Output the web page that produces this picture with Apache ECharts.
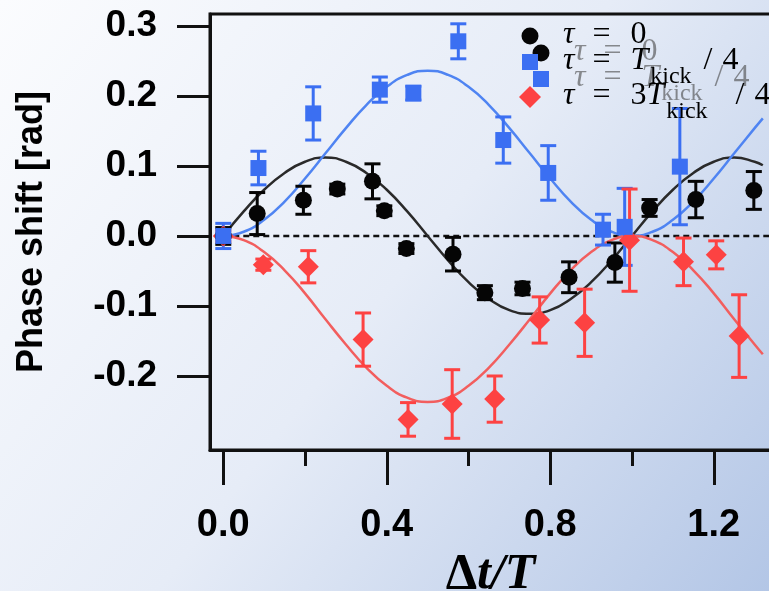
<!DOCTYPE html>
<html>
<head>
<meta charset="utf-8">
<script src="https://cdn.jsdelivr.net/npm/echarts@6/dist/echarts.min.js"></script>
<style>
  html, body { margin: 0; padding: 0; }
  #chart { width: 769px; height: 591px; }
</style>
</head>
<body>
<div id="chart"></div>
<script>
// measured points, tau = 0 (black circles)
const tau0X = [0, 0.083, 0.196, 0.279, 0.365, 0.394, 0.448, 0.562, 0.640, 0.732, 0.846, 0.958, 1.043, 1.156, 1.298];
const tau0Y = [0, 0.032, 0.051, 0.067, 0.078, 0.036, -0.018, -0.026, -0.081, -0.075, -0.059, -0.038, 0.040, 0.052, 0.065];
const tau0Err = [0.012, 0.030, 0.020, 0.007, 0.025, 0.007, 0.007, 0.024, 0.010, 0.009, 0.022, 0.028, 0.012, 0.026, 0.027];

// tau = T_kick/4 (blue squares)
const tau1X = [0, 0.086, 0.220, 0.383, 0.465, 0.575, 0.685, 0.795, 0.929, 0.982, 1.117];
const tau1Y = [0, 0.097, 0.175, 0.209, 0.204, 0.278, 0.137, 0.090, 0.009, 0.013, 0.099];
const tau1Err = [0.018, 0.024, 0.038, 0.018, 0.010, 0.025, 0.033, 0.039, 0.022, 0.055, 0.083];

// tau = 3T_kick/4 (red diamonds)
const tau3X = [0, 0.098, 0.208, 0.342, 0.452, 0.560, 0.664, 0.774, 0.884, 0.994, 1.126, 1.206, 1.262];
const tau3Y = [0, -0.041, -0.044, -0.148, -0.262, -0.240, -0.233, -0.120, -0.124, -0.006, -0.037, -0.027, -0.143];
const tau3Err = [0.008, 0.008, 0.023, 0.038, 0.024, 0.049, 0.033, 0.033, 0.048, 0.073, 0.034, 0.020, 0.059];

// fit curves
const fitX = [0, 0.05, 0.1, 0.15, 0.2, 0.25, 0.3, 0.35, 0.4, 0.45, 0.5, 0.55, 0.6, 0.65, 0.7, 0.75, 0.8, 0.85, 0.9, 0.95, 1.0, 1.05, 1.1, 1.15, 1.2, 1.25, 1.3, 1.32];
const fit0 = [0, 0.035, 0.066, 0.090, 0.106, 0.112, 0.106, 0.090, 0.066, 0.035, 0, -0.035, -0.066, -0.090, -0.106, -0.111, -0.106, -0.090, -0.066, -0.035, 0, 0.035, 0.066, 0.090, 0.106, 0.112, 0.106, 0.101];
const fit1 = [0, 0.006, 0.023, 0.049, 0.082, 0.118, 0.154, 0.187, 0.213, 0.230, 0.236, 0.230, 0.213, 0.187, 0.154, 0.118, 0.082, 0.049, 0.023, 0.006, 0, 0.006, 0.023, 0.049, 0.082, 0.118, 0.154, 0.168];
const fit3 = [0, -0.006, -0.023, -0.049, -0.082, -0.119, -0.155, -0.188, -0.214, -0.231, -0.237, -0.231, -0.214, -0.188, -0.155, -0.119, -0.082, -0.049, -0.023, -0.006, 0, -0.006, -0.023, -0.049, -0.082, -0.119, -0.155, -0.169];

const yTicks = [-0.2, -0.1, 0, 0.1, 0.2, 0.3];
const xTicks = [0, 0.4, 0.8, 1.2];
const xMinorTicks = [0.2, 0.6, 1.0];

const BLACK = '#050505';
const BLUE = '#3b6ff2';
const RED = '#fd4242';

// legend icons padded inside a 22px box (invisible moveTo corners keep the box)
const ICON_CIRCLE = 'path://M0,0M22,22M2.5,11A8.5,8.5,0,1,1,19.5,11A8.5,8.5,0,1,1,2.5,11Z';
const ICON_SQUARE = 'path://M0,0M22,22M3,3L19,3L19,19L3,19Z';

const zip = (xs, ys, es) => xs.map((x, i) => es ? [x, ys[i], es[i]] : [x, ys[i]]);

function errorBars(color) {
  return function (params, api) {
    const x = api.value(0), y = api.value(1), e = api.value(2);
    const top = api.coord([x, y + e]);
    const bot = api.coord([x, y - e]);
    const hw = 8;
    const style = { stroke: color, lineWidth: 3 };
    return {
      type: 'group',
      children: [
        { type: 'line', shape: { x1: top[0], y1: top[1], x2: bot[0], y2: bot[1] }, style: style },
        { type: 'line', shape: { x1: top[0] - hw, y1: top[1], x2: top[0] + hw, y2: top[1] }, style: style },
        { type: 'line', shape: { x1: bot[0] - hw, y1: bot[1], x2: bot[0] + hw, y2: bot[1] }, style: style }
      ]
    };
  };
}

function legendText(name) {
  if (name === 'tau0') return '{t|τ}{e|=}{n|0}';
  if (name === 'tau1') return '{t|τ}{e|=}{m|T}{s|kick}{d|/}{n|4}';
  return '{t|τ}{e|=}{n|3}{m|T}{s|kick}{d3|/}{n|4}';
}

function legendRich(color) {
  const f = 'Liberation Serif';
  return {
    t: { fontFamily: f, fontSize: 32, fontStyle: 'italic', color: color, lineHeight: 34, verticalAlign: 'top', padding: [0, 0, 0, 17] },
    e: { fontFamily: f, fontSize: 32, color: color, lineHeight: 34, verticalAlign: 'top', padding: [0, 20, 0, 18] },
    n: { fontFamily: f, fontSize: 32, color: color, lineHeight: 34, verticalAlign: 'top' },
    m: { fontFamily: f, fontSize: 32, fontStyle: 'italic', color: color, lineHeight: 34, verticalAlign: 'top' },
    s: { fontFamily: f, fontSize: 24, color: color, lineHeight: 24, verticalAlign: 'top', padding: [20, 0, 0, 2] },
    d: { fontFamily: f, fontSize: 32, color: color, lineHeight: 34, verticalAlign: 'top', padding: [0, 10, 0, 12] },
    d3: { fontFamily: f, fontSize: 32, color: color, lineHeight: 34, verticalAlign: 'top', padding: [0, 10, 0, 28] }
  };
}

// one legend row each, so every row sits where it does in the figure
function legendRow(name, icon, left, top, color) {
  return {
    orient: 'vertical', left: left, top: top, padding: 0,
    itemWidth: 22, itemHeight: 22, selectedMode: false,
    data: [{ name: name, icon: icon }],
    formatter: legendText,
    textStyle: { rich: legendRich(color) }
  };
}

const GHOST = 'rgba(70,70,70,0.6)';

const chart = echarts.init(document.getElementById('chart'));

const option = {
  animation: false,
  backgroundColor: {
    type: 'linear', x: 0, y: 0, x2: 1, y2: 1,
    colorStops: [
      { offset: 0, color: '#fbfcfe' },
      { offset: 0.5, color: '#e6ecf7' },
      { offset: 1, color: '#b3c6e6' }
    ]
  },
  grid: {
    left: 210, top: 14, right: -2, bottom: 141,
    outerBoundsMode: 'none', containLabel: false,
    show: true, borderColor: '#111', borderWidth: 3, backgroundColor: 'transparent'
  },
  legend: [
    legendRow('tau0', ICON_CIRCLE, 530, 36, GHOST),
    legendRow('tau1', ICON_SQUARE, 530, 62, GHOST),
    legendRow('tau0', ICON_CIRCLE, 519, 19, '#000'),
    legendRow('tau1', ICON_SQUARE, 519, 45, '#000'),
    legendRow('tau3', 'diamond', 519, 80, '#000')
  ],
  xAxis: [
    {
      type: 'value', min: -0.0325, max: 1.34, position: 'bottom',
      axisLine: { onZero: false, lineStyle: { color: '#111', width: 3 } },
      axisTick: { customValues: xTicks, length: 35, lineStyle: { color: '#111', width: 3 } },
      axisLabel: {
        customValues: xTicks, margin: 57, color: '#000',
        fontFamily: 'Liberation Sans', fontWeight: 'bold', fontSize: 38,
        formatter: v => v.toFixed(1)
      },
      splitLine: { show: false },
      name: '{a|Δ}{b|t/T}', nameLocation: 'middle', nameGap: 82,
      nameTextStyle: {
        rich: {
          a: { fontFamily: 'Liberation Serif', fontSize: 50, fontWeight: 'bold', color: '#000' },
          b: { fontFamily: 'Liberation Serif', fontSize: 50, fontWeight: 'bold', fontStyle: 'italic', color: '#000' }
        }
      }
    },
    {
      type: 'value', min: -0.0325, max: 1.34, position: 'bottom',
      axisLine: { show: false, onZero: false },
      axisTick: { customValues: xMinorTicks, length: 16, lineStyle: { color: '#111', width: 3 } },
      axisLabel: { show: false },
      splitLine: { show: false }
    }
  ],
  yAxis: {
    type: 'value', min: -0.3057, max: 0.317,
    axisLine: { show: true, onZero: false, lineStyle: { color: '#111', width: 3 } },
    axisTick: { show: true, customValues: yTicks, length: 33, lineStyle: { color: '#111', width: 3 } },
    axisLabel: {
      customValues: yTicks, margin: 53, color: '#000',
      fontFamily: 'Liberation Sans', fontWeight: 'bold', fontSize: 37,
      formatter: v => v.toFixed(1)
    },
    splitLine: { show: false },
    name: 'Phase shift [rad]', nameLocation: 'middle', nameGap: 160, nameRotate: 90,
    nameTextStyle: { fontFamily: 'Liberation Sans', fontWeight: 'bold', fontSize: 36, color: '#000' }
  },
  series: [
    {
      name: 'zero', type: 'line', z: 1, silent: true, showSymbol: false,
      data: [[0, 0], [1.34, 0]],
      lineStyle: { color: '#111', width: 2.5, type: [6, 4] }
    },
    {
      name: 'fit0', type: 'line', z: 2, smooth: true, showSymbol: false,
      data: zip(fitX, fit0), lineStyle: { color: '#2a2a2a', width: 2.5 }
    },
    {
      name: 'fit1', type: 'line', z: 2, smooth: true, showSymbol: false,
      data: zip(fitX, fit1), lineStyle: { color: '#4f84f2', width: 2.5 }
    },
    {
      name: 'fit3', type: 'line', z: 2, smooth: true, showSymbol: false,
      data: zip(fitX, fit3), lineStyle: { color: '#f25e5e', width: 2.5 }
    },
    { name: 'err0', type: 'custom', z: 3, renderItem: errorBars(BLACK), encode: { x: 0, y: 1 }, data: zip(tau0X, tau0Y, tau0Err) },
    { name: 'err1', type: 'custom', z: 3, renderItem: errorBars(BLUE), encode: { x: 0, y: 1 }, data: zip(tau1X, tau1Y, tau1Err) },
    { name: 'err3', type: 'custom', z: 3, renderItem: errorBars(RED), encode: { x: 0, y: 1 }, data: zip(tau3X, tau3Y, tau3Err) },
    {
      name: 'tau3', type: 'scatter', z: 4, symbol: 'diamond', symbolSize: 21,
      itemStyle: { color: RED, opacity: 1 }, data: zip(tau3X, tau3Y)
    },
    {
      name: 'tau0', type: 'scatter', z: 4, symbol: 'circle', symbolSize: 17,
      itemStyle: { color: BLACK, opacity: 1 }, data: zip(tau0X, tau0Y)
    },
    {
      name: 'tau1', type: 'scatter', z: 4, symbol: 'rect', symbolSize: 16,
      itemStyle: { color: BLUE, opacity: 1 }, data: zip(tau1X, tau1Y)
    }
  ]
};

chart.setOption(option);
</script>
</body>
</html>
